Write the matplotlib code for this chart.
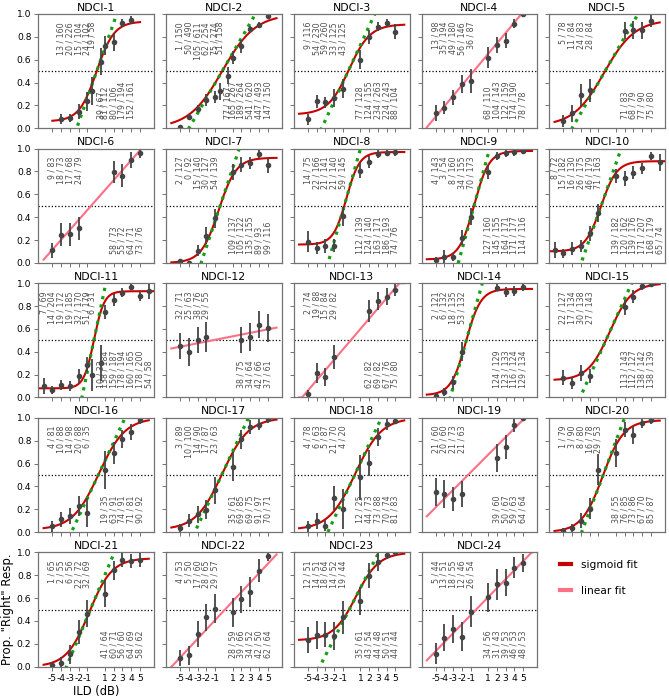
import numpy as np
import matplotlib
matplotlib.use('Agg')
import matplotlib.pyplot as plt
from matplotlib.lines import Line2D

plt.rcParams['axes.unicode_minus'] = False

# ILD sets used by the different listeners
ild_std = [-5, -4, -3, -2, -1, 1, 2, 3, 4, 5]
ild_gap = [-5, -4, -3, -2, 2, 3, 4, 5]
ild_half = [-4, -3, -2, -1, -0.5, 0.5, 1, 2, 3, 4]
ild_half_wide = [-5, -4, -3, -2, -1, -0.5, 0.5, 1, 2, 3, 4, 5]
ild_wide = [-6, -5, -4, -3, -2, -1, 1, 2, 3, 4, 5, 6]
ild_full = [-6, -5, -4, -3, -2, -1, -0.5, 0.5, 1, 2, 3, 4, 5, 6]

subjects = ['NDCI-%d' % i for i in range(1, 25)]

ild = [ild_half, ild_half_wide, ild_std, ild_std, ild_gap,
       ild_gap, ild_std, ild_std, ild_std, ild_wide,
       ild_full, ild_gap, ild_gap, ild_gap, ild_gap,
       ild_std, ild_std, ild_std, ild_gap, ild_std,
       ild_std, ild_std, ild_std, ild_std]

# number of "right" responses / number of trials per ILD
n_right = [
    [13, 20, 15, 24, 19, 39, 81, 80, 179, 152],
    [1, 50, 105, 62, 75, 51, 77, 165, 189, 541, 447, 147],
    [9, 54, 59, 33, 43, 77, 124, 234, 224, 88],
    [13, 35, 49, 56, 36, 68, 104, 122, 174, 78],
    [5, 11, 24, 28, 71, 68, 77, 75],
    [9, 18, 17, 24, 58, 55, 64, 73],
    [2, 0, 15, 30, 54, 109, 105, 135, 89, 99],
    [14, 22, 21, 21, 59, 112, 124, 163, 186, 74],
    [4, 3, 8, 34, 70, 127, 145, 164, 171, 114],
    [8, 15, 16, 26, 46, 71, 139, 120, 139, 171, 168, 65],
    [7, 14, 19, 19, 32, 51, 6, 10, 138, 159, 178, 160, 178, 54],
    [32, 25, 38, 29, 38, 34, 42, 37],
    [2, 19, 15, 29, 62, 69, 67, 75],
    [2, 6, 18, 53, 124, 123, 116, 129],
    [22, 17, 30, 27, 113, 112, 138, 138],
    [4, 10, 14, 20, 6, 19, 63, 74, 71, 90],
    [3, 10, 14, 17, 23, 35, 69, 69, 91, 70],
    [4, 6, 5, 21, 4, 12, 44, 73, 70, 81],
    [21, 20, 21, 21, 39, 50, 59, 64],
    [1, 3, 8, 16, 29, 38, 76, 73, 67, 85],
    [1, 2, 6, 22, 32, 41, 60, 56, 64, 58],
    [4, 5, 17, 28, 29, 28, 39, 34, 42, 62],
    [12, 14, 18, 14, 19, 35, 43, 44, 50, 44],
    [5, 13, 18, 12, 26, 34, 31, 39, 46, 48],
]
n_total = [
    [160, 226, 104, 102, 58, 67, 112, 106, 194, 161],
    [150, 490, 611, 254, 274, 158, 167, 267, 264, 620, 493, 150],
    [116, 230, 260, 125, 125, 128, 155, 263, 243, 104],
    [98, 194, 180, 146, 87, 110, 143, 159, 190, 78],
    [78, 84, 83, 84, 83, 79, 90, 80],
    [83, 73, 68, 79, 73, 72, 71, 76],
    [127, 92, 140, 127, 139, 137, 122, 155, 93, 116],
    [75, 166, 141, 140, 145, 139, 140, 171, 193, 76],
    [143, 54, 160, 155, 173, 160, 155, 171, 177, 116],
    [72, 182, 130, 175, 179, 163, 182, 162, 176, 207, 179, 74],
    [69, 204, 172, 185, 170, 179, 31, 33, 184, 187, 194, 165, 200, 58],
    [71, 63, 76, 55, 75, 64, 66, 61],
    [74, 88, 84, 82, 82, 82, 76, 80],
    [121, 132, 135, 132, 129, 133, 124, 134],
    [127, 134, 138, 143, 143, 127, 142, 139],
    [81, 88, 98, 88, 35, 35, 91, 91, 81, 92],
    [89, 100, 90, 87, 63, 61, 85, 75, 97, 71],
    [78, 63, 87, 70, 20, 25, 73, 88, 74, 83],
    [60, 60, 73, 63, 60, 67, 63, 64],
    [79, 90, 80, 78, 53, 55, 85, 86, 70, 87],
    [65, 55, 56, 72, 69, 64, 71, 60, 69, 62],
    [53, 50, 60, 65, 57, 59, 66, 52, 50, 64],
    [51, 51, 64, 52, 44, 61, 54, 48, 51, 44],
    [44, 51, 55, 46, 54, 56, 43, 53, 53, 53],
]

fit_kind = ['sig', 'sig', 'sig', 'lin', 'sig',
            'lin', 'sig', 'sig', 'sig', 'sig',
            'sig', 'lin', 'lin', 'sig', 'sig',
            'sig', 'sig', 'sig', 'lin', 'sig',
            'sig', 'lin', 'sig', 'lin']

# sigmoid fits: lower asymptote, upper asymptote, midpoint, width
sig_lo = [0.06, 0.0, 0.12, 0, 0.02, 0, 0.0, 0.16, 0.03, 0.10, 0.08, 0, 0, 0.02, 0.15,
          0.02, 0.02, 0.02, 0, 0.0, 0.0, 0, 0.23, 0]
sig_hi = [0.935, 1.0, 0.91, 0, 0.95, 0, 0.92, 0.97, 0.98, 0.89, 0.93, 0, 0, 0.95, 1.0,
          1.0, 1.0, 1.0, 0, 0.98, 0.95, 0, 1.0, 0]
sig_mu = [0.05, -0.2, -0.3, 0, -0.35, 0, -0.6, -0.6, -0.6, -0.7, -0.25, 0, 0, -1.55, 0.3,
          0.3, -0.2, 0.4, 0, -0.5, -0.8, 0, 0.5, 0]
sig_s = [1.0, 1.9, 1.2, 1, 1.75, 1, 1.0, 0.75, 0.85, 0.9, 0.58, 1, 1, 0.85, 1.25,
         1.5, 1.5, 1.5, 1, 1.2, 1.3, 1, 1.3, 1]

# linear fits: intercept, slope
lin_a = [0, 0, 0, 0.56, 0, 0.55, 0, 0, 0, 0, 0, 0.52, 0.51, 0, 0,
         0, 0, 0, 0.60, 0, 0, 0.49, 0, 0.53]
lin_b = [0, 0, 0, 0.092, 0, 0.087, 0, 0, 0, 0, 0, 0.0152, 0.09, 0, 0,
         0, 0, 0, 0.077, 0, 0, 0.082, 0, 0.079]

red = '#c80000'
pink = '#ff6f86'
green = '#12a012'
grey = '#444444'

fig, axes = plt.subplots(5, 5, figsize=(6.69, 6.99), dpi=100, sharex=True, sharey=True)
fig.subplots_adjust(left=0.0573, right=0.994, top=0.98, bottom=0.0462,
                    wspace=0.104, hspace=0.178)

for i, ax in enumerate(axes.flat[:24]):
    x = np.array(ild[i], dtype=float)
    k = np.array(n_right[i])
    n = np.array(n_total[i])
    p = k / n
    err = 1.96 * np.sqrt(p * (1 - p) / n)
    xs = np.linspace(x.min() - 1, x.max() + 1, 300)

    ax.axhline(0.5, color='k', ls=':', lw=0.9)
    if fit_kind[i] == 'sig':
        lo, hi, mu, s = sig_lo[i], sig_hi[i], sig_mu[i], sig_s[i]
        ax.plot(xs, lo + (hi - lo) / (1 + np.exp(-(xs - mu) / s)), color=red, lw=1.5)
        slope = (hi - lo) / (4 * s)
        ax.plot(xs, (lo + hi) / 2 + slope * (xs - mu), ls=':', color=green, lw=2.3)
    else:
        ax.plot(xs, np.clip(lin_a[i] + lin_b[i] * xs, 0, 1), color=pink, lw=1.5)

    ax.errorbar(x, p, yerr=err, fmt='o', ms=3, color=grey, elinewidth=1.3, capsize=0)

    for xi, ki, ni in zip(x, k, n):
        if xi < 0:
            ax.text(xi, 0.93, '%d / %d' % (ki, ni), rotation=90, ha='center', va='top',
                    fontsize=5.7, color='#505050')
        else:
            ax.text(xi, 0.08, '%d / %d' % (ki, ni), rotation=90, ha='center', va='bottom',
                    fontsize=5.7, color='#505050')

    ax.set_title(subjects[i], fontsize=7.8, pad=2.5)

for ax in axes.flat:
    ax.set_xlim(-6.6, 6.6)
    ax.set_ylim(0, 1)
    ax.set_xticks([-5, -4, -3, -2, -1, 1, 2, 3, 4, 5])
    ax.set_yticks([0, 0.2, 0.4, 0.6, 0.8, 1.0])
    ax.tick_params(labelsize=6.6, length=3, width=0.7, color='0.45', pad=2)
    for sp in ax.spines.values():
        sp.set_color('0.45')
        sp.set_linewidth(0.9)

axes[4, 0].set_xlabel('ILD (dB)', fontsize=8.3, labelpad=2)
axes[4, 0].set_ylabel('Prop. "Right" Resp.', fontsize=8.5, labelpad=2)

leg_ax = axes[4, 4]
leg_ax.axis('off')
handles = [Line2D([], [], color=red, lw=3), Line2D([], [], color=pink, lw=3)]
leg_ax.legend(handles, ['sigmoid fit', 'linear fit'], loc='upper left',
              bbox_to_anchor=(0.03, 1.0), frameon=False, fontsize=7.7,
              handlelength=1.0, handletextpad=0.9, labelspacing=1.5, borderaxespad=0.3)

plt.savefig('out.png', dpi=100)
